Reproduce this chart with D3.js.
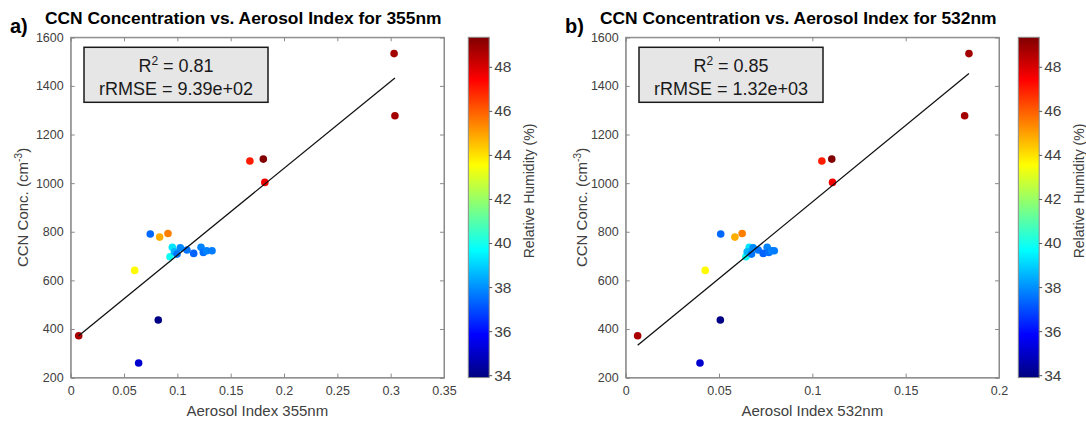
<!DOCTYPE html>
<html>
<head>
<meta charset="utf-8">
<script src="https://cdn.jsdelivr.net/npm/d3@7"></script>
<style>
  body { margin: 0; background: #fff; }
  svg { display: block; font-family: "Liberation Sans", Arial, Helvetica, sans-serif; }
</style>
</head>
<body>
<svg id="chart" width="1086" height="421"></svg>
<script>
// Aerosol index at the two wavelengths, one entry per sample
const ai355 = [0.0075, 0.0637, 0.0821, 0.0600, 0.0746, 0.0834, 0.0912, 0.0953, 0.0931, 0.0972,
               0.0997, 0.1028, 0.1090, 0.1153, 0.1222, 0.1243, 0.1275, 0.1325, 0.1680, 0.1806,
               0.1820, 0.3032, 0.3040];
const ai532 = [0.0064, 0.0398, 0.0507, 0.0426, 0.0509, 0.0585, 0.0624, 0.0662, 0.0644, 0.0651,
               0.0674, 0.0683, 0.0710, 0.0737, 0.0758, 0.0767, 0.0782, 0.0796, 0.1051, 0.1104,
               0.1108, 0.1839, 0.1816];
// CCN concentration (cm^-3)
const ccn = [372, 260, 437, 641, 791, 778, 793, 736, 697, 718,
             708, 734, 725, 711, 736, 715, 722, 722, 1091, 1099,
             1003, 1533, 1277];
// Relative humidity (%), used for marker colour
const rh = [48.7, 35.1, 34.0, 43.6, 37.4, 44.8, 45.5, 39.3, 39.9, 38.6,
            37.6, 37.9, 37.6, 37.3, 37.8, 37.5, 37.8, 37.7, 47.0, 49.3,
            47.6, 48.8, 48.8];

// Linear fits: [intercept, slope] and the x extent over which each is drawn
const fit355 = [345.8, 3576];
const fit532 = [292.7, 6299];
const fitSpan355 = [0.0075, 0.304];
const fitSpan532 = [0.0064, 0.1839];

const r2Text = ["0.81", "0.85"];
const rrmseText = ["9.39e+02", "1.32e+03"];
const panelTags = ["a)", "b)"];
const panelTitles = ["CCN Concentration vs. Aerosol Index for 355nm",
                     "CCN Concentration vs. Aerosol Index for 532nm"];
const xLabels = ["Aerosol Index 355nm", "Aerosol Index 532nm"];

const ccnTicks = [200, 400, 600, 800, 1000, 1200, 1400, 1600];
const ai355Ticks = [0, 0.05, 0.1, 0.15, 0.2, 0.25, 0.3, 0.35];
const ai532Ticks = [0, 0.05, 0.1, 0.15, 0.2];
const rhTicks = [34, 36, 38, 40, 42, 44, 46, 48];
const rhRange = [33.89, 49.34];

// MATLAB-style jet colormap
function jet(t) {
  t = Math.max(0, Math.min(1, t));
  const c = v => Math.round(255 * Math.max(0, Math.min(1, v)));
  return d3.rgb(c(1.5 - Math.abs(4 * t - 3)), c(1.5 - Math.abs(4 * t - 2)), c(1.5 - Math.abs(4 * t - 1))).formatHex();
}
const rhNorm = d3.scaleLinear().domain(rhRange).range([0, 1]);
const rhColor = v => jet(rhNorm(v));

const svg = d3.select("#chart");
const axisGrey = "#8a8a8a";
const textGrey = "#404040";

const plot = { left: 70.7, right: 444, top: 37.3, bottom: 377.6 };

const panels = [
  { ox: 0, xs: ai355, xDomain: [0, 0.35], xTicks: ai355Ticks, fit: fit355, span: fitSpan355,
    cbLeft: 468.3, cbLabelX: 534, yLabelX: 28 },
  { ox: 555, xs: ai532, xDomain: [0, 0.2], xTicks: ai532Ticks, fit: fit532, span: fitSpan532,
    cbLeft: 463.3, cbLabelX: 528.5, yLabelX: 32 }
];
const cbWidth = 20.9;
const fmt = d3.format("~g");

panels.forEach((p, i) => {
  const g = svg.append("g").attr("transform", `translate(${p.ox},0)`);
  const x = d3.scaleLinear().domain(p.xDomain).range([plot.left, plot.right]);
  const y = d3.scaleLinear().domain([200, 1600]).range([plot.bottom, plot.top]);

  // frame
  g.append("rect")
    .attr("x", plot.left).attr("y", plot.top)
    .attr("width", plot.right - plot.left).attr("height", plot.bottom - plot.top)
    .attr("fill", "#fff").attr("stroke", axisGrey).attr("stroke-width", 1);

  // axes with inward ticks on all four sides
  const tl = 4;
  const axB = g.append("g").attr("transform", `translate(0,${plot.bottom})`)
    .call(d3.axisBottom(x).tickValues(p.xTicks).tickFormat(fmt).tickSize(-tl).tickPadding(9));
  const axT = g.append("g").attr("transform", `translate(0,${plot.top})`)
    .call(d3.axisTop(x).tickValues(p.xTicks).tickFormat("").tickSize(-tl));
  const axL = g.append("g").attr("transform", `translate(${plot.left},0)`)
    .call(d3.axisLeft(y).tickValues(ccnTicks).tickFormat(fmt).tickSize(-tl).tickPadding(7));
  const axR = g.append("g").attr("transform", `translate(${plot.right},0)`)
    .call(d3.axisRight(y).tickValues(ccnTicks).tickFormat("").tickSize(-tl));
  [axB, axT, axL, axR].forEach(a => {
    a.select(".domain").attr("stroke", axisGrey);
    a.selectAll(".tick line").attr("stroke", axisGrey);
    a.selectAll(".tick text").attr("fill", textGrey).style("font-size", "12.5px")
      .style("font-family", "'Liberation Sans', Arial, sans-serif");
  });

  // scatter points coloured by relative humidity
  g.append("g").selectAll("circle")
    .data(p.xs.map((v, k) => ({ x: v, y: ccn[k], rh: rh[k] })))
    .join("circle")
    .attr("cx", d => x(d.x)).attr("cy", d => y(d.y))
    .attr("r", 3.8).attr("fill", d => rhColor(d.rh));

  // regression line
  const fitLine = p.span.map(v => ({ x: v, y: p.fit[0] + p.fit[1] * v }));
  g.append("path")
    .attr("d", d3.line().x(d => x(d.x)).y(d => y(d.y))(fitLine))
    .attr("stroke", "#111").attr("stroke-width", 1.3).attr("fill", "none");

  // statistics box
  const bx = plot.left + 13.3, by = 47.3, bw = 184, bh = 55;
  g.append("rect").attr("x", bx).attr("y", by).attr("width", bw).attr("height", bh)
    .attr("fill", "#e6e6e6").attr("stroke", "#1a1a1a").attr("stroke-width", 1.5);
  const t1 = g.append("text").attr("x", bx + bw / 2).attr("y", by + 24.5)
    .attr("text-anchor", "middle").style("font-size", "18px").attr("fill", "#1a1a1a");
  t1.append("tspan").text("R");
  t1.append("tspan").attr("dy", -7).style("font-size", "12px").text("2");
  t1.append("tspan").attr("dy", 7).text(" = " + r2Text[i]);
  g.append("text").attr("x", bx + bw / 2).attr("y", by + 48)
    .attr("text-anchor", "middle").style("font-size", "18px").attr("fill", "#1a1a1a")
    .text("rRMSE = " + rrmseText[i]);

  // axis labels
  g.append("text").attr("x", (plot.left + plot.right) / 2).attr("y", 416)
    .attr("text-anchor", "middle").style("font-size", "15px").attr("fill", textGrey)
    .text(xLabels[i]);
  const yl = g.append("text")
    .attr("transform", `translate(${p.yLabelX},${(plot.top + plot.bottom) / 2}) rotate(-90)`)
    .attr("text-anchor", "middle").style("font-size", "15px").attr("fill", textGrey);
  yl.append("tspan").text("CCN Conc. (cm");
  yl.append("tspan").attr("dy", -6).style("font-size", "10.5px").text("-3");
  yl.append("tspan").attr("dy", 6).text(")");

  // titles
  g.append("text").attr("x", 10).attr("y", 33)
    .style("font-size", "20px").style("font-weight", "bold").attr("fill", "#000")
    .text(panelTags[i]);
  g.append("text").attr("x", 45).attr("y", 24)
    .style("font-size", "17.4px").style("font-weight", "bold").attr("fill", "#000")
    .text(panelTitles[i]);

  // colour bar
  const cy = d3.scaleLinear().domain(rhRange).range([plot.bottom, plot.top]);
  const gradId = "jetGrad" + i;
  const grad = svg.append("defs").append("linearGradient").attr("id", gradId)
    .attr("x1", 0).attr("y1", 1).attr("x2", 0).attr("y2", 0);
  d3.range(0, 256).forEach(s => {
    grad.append("stop").attr("offset", s / 255).attr("stop-color", jet(s / 255));
  });
  g.append("rect").attr("x", p.cbLeft).attr("y", plot.top)
    .attr("width", cbWidth).attr("height", plot.bottom - plot.top)
    .attr("fill", `url(#${gradId})`).attr("stroke", axisGrey).attr("stroke-width", 1);
  const axC = g.append("g").attr("transform", `translate(${p.cbLeft + cbWidth},0)`)
    .call(d3.axisRight(cy).tickValues(rhTicks).tickFormat(fmt).tickSize(3).tickPadding(2));
  axC.select(".domain").remove();
  axC.selectAll(".tick line").attr("stroke", "#555");
  axC.selectAll(".tick text").attr("fill", textGrey).style("font-size", "15.5px")
    .style("font-family", "'Liberation Sans', Arial, sans-serif");
  g.append("text")
    .attr("transform", `translate(${p.cbLabelX},191) rotate(-90)`)
    .attr("text-anchor", "middle").style("font-size", "14px").attr("fill", textGrey)
    .text("Relative Humidity (%)");
});
</script>
</body>
</html>
